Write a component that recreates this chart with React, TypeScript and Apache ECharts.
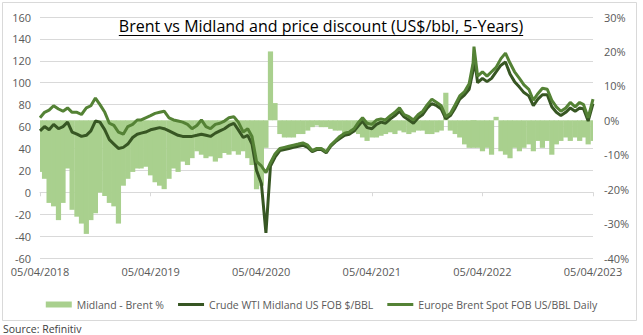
import React, { useEffect, useRef } from 'react';
import * as echarts from 'echarts';

const DATES = [
  '2018-04-05','2018-04-20','2018-05-05','2018-05-20','2018-06-05','2018-06-20','2018-07-05','2018-07-20','2018-08-05','2018-08-20',
  '2018-09-05','2018-09-20','2018-10-05','2018-10-20','2018-11-05','2018-11-20','2018-12-05','2018-12-20','2019-01-05','2019-01-20',
  '2019-02-05','2019-02-20','2019-03-05','2019-03-20','2019-04-05','2019-04-20','2019-05-05','2019-05-20','2019-06-05','2019-06-20',
  '2019-07-05','2019-07-20','2019-08-05','2019-08-20','2019-09-05','2019-09-20','2019-10-05','2019-10-20','2019-11-05','2019-11-20',
  '2019-12-05','2019-12-20','2020-01-05','2020-01-20','2020-02-05','2020-02-20','2020-03-05','2020-03-20','2020-04-05','2020-04-20',
  '2020-05-05','2020-05-20','2020-06-05','2020-06-20','2020-07-05','2020-07-20','2020-08-05','2020-08-20','2020-09-05','2020-09-20',
  '2020-10-05','2020-10-20','2020-11-05','2020-11-20','2020-12-05','2020-12-20','2021-01-05','2021-01-20','2021-02-05','2021-02-20',
  '2021-03-05','2021-03-20','2021-04-05','2021-04-20','2021-05-05','2021-05-20','2021-06-05','2021-06-20','2021-07-05','2021-07-20',
  '2021-08-05','2021-08-20','2021-09-05','2021-09-20','2021-10-05','2021-10-20','2021-11-05','2021-11-20','2021-12-05','2021-12-20',
  '2022-01-05','2022-01-20','2022-02-05','2022-02-20','2022-03-05','2022-03-08','2022-03-20','2022-04-05','2022-04-20','2022-05-05',
  '2022-05-20','2022-06-05','2022-06-20','2022-07-05','2022-07-20','2022-08-05','2022-08-20','2022-09-05','2022-09-20','2022-10-05',
  '2022-10-20','2022-11-05','2022-11-20','2022-12-05','2022-12-20','2023-01-05','2023-01-20','2023-02-05','2023-02-20','2023-03-05',
  '2023-03-20','2023-04-05',
];

const BRENT = [
  68, 73, 75, 79, 76, 74, 77, 73, 73, 71,
  77, 79, 86, 80, 73, 63, 61, 55, 53, 60,
  62, 66, 66, 68, 70, 72, 73, 74, 68, 66,
  65, 64, 62, 58, 61, 66, 60, 58, 62, 63,
  65, 68, 69, 64, 55, 58, 51, 28, 24, 18,
  27, 35, 40, 41, 42, 43, 44, 45, 43, 38,
  40, 40, 37, 43, 47, 51, 54, 55, 58, 64,
  68, 63, 62, 66, 67, 66, 70, 73, 77, 71,
  69, 66, 71, 74, 80, 85, 82, 79, 69, 72,
  80, 88, 92, 99, 118, 133, 106, 110, 106, 110,
  114, 122, 127, 118, 110, 104, 98, 94, 84, 90,
  95, 94, 84, 78, 74, 77, 82, 78, 82, 80,
  68, 85,
];

const WTI_MIDLAND = [
  56, 60, 57, 62, 58, 60, 64, 55, 53, 51,
  52, 56, 65, 64, 57, 48, 44, 40, 41, 44,
  50, 53, 54, 55, 57, 58, 59, 58, 56, 54,
  52, 51, 51, 51, 52, 53, 52, 51, 54, 56,
  58, 61, 63, 57, 50, 52, 44, 20, 8, -37,
  24, 32, 38, 39, 40, 41, 42, 43, 41, 37,
  39, 39, 36, 42, 46, 49, 52, 53, 56, 61,
  65, 59, 58, 62, 64, 63, 67, 70, 74, 69,
  66, 63, 68, 71, 77, 81, 79, 76, 67, 70,
  77, 85, 89, 94, 111, 126, 100, 104, 101, 104,
  110, 116, 119, 108, 101, 96, 91, 88, 79, 85,
  89, 89, 78, 73, 70, 73, 77, 74, 77, 76,
  65, 81,
];

const DISCOUNT_PCT = [
  -15, -17, -24, -25, -29, -24, -14, -26, -28, -30,
  -33, -29, -27, -21, -22, -24, -25, -30, -19, -17,
  -15, -14, -14, -13.5, -16, -18, -19, -20, -17, -14,
  -15, -12, -13, -11, -9, -10, -11, -10.5, -12, -11,
  -9.5, -10, -9, -10, -9, -11, -13, -20, -19, -8,
  20, 5, -4, -5, -5, -5, -4, -4, -3, -2,
  -1.5, -2, -2, -2.5, -3, -3, -4, -3, -3.5, -4,
  -5, -6, -5, -5, -4.5, -4, -3.5, -4, -3, -3.5,
  -4, -3.5, -3, -3, -4, -4, -3.5, -3, 8, -3,
  -4, -5, -7, -8, -8, -7, -8, -9, -8, -10,
  1, -9, -10, -11, -8, -9, -8, -7, -9, -6,
  -8, -6, -10, -7, -6, -5, -6, -5, -6, -5,
  -7, -6,
];

const X_TICK_LABELS = ['05/04/2018', '05/04/2019', '05/04/2020', '05/04/2021', '05/04/2022', '05/04/2023'];
const LEFT_TICKS = { min: -60, max: 160, step: 20 };
const RIGHT_TICKS = { min: -40, max: 30, step: 10 };
const TITLE = 'Brent vs Midland and price discount (US$/bbl, 5-Years)';
const SOURCE = 'Source: Refinitiv';
const NAMES = ['Midland - Brent %', 'Crude WTI Midland US FOB $/BBL', 'Europe Brent Spot FOB US/BBL Daily'];

const START = Date.parse('2018-04-05');
const END = Date.parse('2023-04-05');
const YEARS = X_TICK_LABELS.length - 1;
const toX = (d: string) => ((Date.parse(d) - START) / (END - START)) * YEARS;

const FONT = "'Open Sans', sans-serif";
const TITLE_SIZE = 16;
const LINE_ICON = 'path://M0,0 L26,0 L26,3 L0,3 Z';
const BAR_COLOR = '#a9d08e';
const BAR_W = 5.2;

export default function App() {
  const ref = useRef<HTMLDivElement>(null);
  useEffect(() => {
    if (!ref.current) return;
    const chart = echarts.init(ref.current, null, { renderer: 'svg' });
    const ctx = document.createElement('canvas').getContext('2d');
    let titleW = 410;
    if (ctx) {
      ctx.font = `${TITLE_SIZE}px 'Open Sans'`;
      titleW = ctx.measureText(TITLE).width;
    }
    const xs = DATES.map(toX);
    const axisText = { color: '#595959', fontSize: 11, fontFamily: FONT };
    chart.setOption({
      animation: false,
      backgroundColor: '#ffffff',
      grid: { left: 40, right: 50, top: 17, bottom: 77 },
      xAxis: {
        type: 'value',
        min: 0,
        max: YEARS,
        interval: 1,
        axisLine: { show: true, lineStyle: { color: '#d9d9d9' } },
        axisTick: { show: true, length: 4, lineStyle: { color: '#d9d9d9' } },
        splitLine: { show: false },
        axisLabel: {
          ...axisText,
          margin: 8,
          formatter: (v: number) => X_TICK_LABELS[Math.round(v)] ?? '',
        },
      },
      yAxis: [
        {
          type: 'value',
          min: LEFT_TICKS.min,
          max: LEFT_TICKS.max,
          interval: LEFT_TICKS.step,
          axisLine: { show: false },
          axisTick: { show: false },
          splitLine: { lineStyle: { color: '#d9d9d9' } },
          axisLabel: { ...axisText, margin: 9 },
        },
        {
          type: 'value',
          min: RIGHT_TICKS.min,
          max: RIGHT_TICKS.max,
          interval: RIGHT_TICKS.step,
          position: 'right',
          axisLine: { show: false },
          axisTick: { show: false },
          splitLine: { show: false },
          axisLabel: { ...axisText, margin: 11, formatter: (v: number) => `${v}%` },
        },
      ],
      legend: {
        top: 294,
        left: 'center',
        itemWidth: 26,
        itemHeight: 6,
        itemGap: 14,
        symbolKeepAspect: true,
        textStyle: { color: '#595959', fontSize: 10.5, fontFamily: FONT },
        data: [
          { name: NAMES[0], icon: 'rect', itemStyle: { color: BAR_COLOR } },
          { name: NAMES[1], icon: LINE_ICON },
          { name: NAMES[2], icon: LINE_ICON },
        ],
      },
      series: [
        {
          name: NAMES[0],
          type: 'custom',
          yAxisIndex: 1,
          clip: true,
          encode: { x: 0, y: 1 },
          itemStyle: { color: BAR_COLOR },
          renderItem: (params: any, api: any) => {
            const x = api.value(0);
            const v = api.value(1);
            const p0 = api.coord([x, 0]);
            const p1 = api.coord([x, v]);
            const rect = {
              x: p0[0] - BAR_W / 2,
              y: Math.min(p0[1], p1[1]),
              width: BAR_W,
              height: Math.abs(p1[1] - p0[1]),
            };
            const c = params.coordSys;
            const clipped = echarts.graphic.clipRectByRect(rect, {
              x: c.x, y: c.y, width: c.width, height: c.height,
            });
            return clipped
              ? { type: 'rect', shape: clipped, style: { fill: BAR_COLOR } }
              : null;
          },
          data: xs.map((x, i) => [x, DISCOUNT_PCT[i]]),
          z: 1,
        },
        {
          name: NAMES[1],
          type: 'line',
          yAxisIndex: 0,
          symbol: 'none',
          lineStyle: { color: '#375623', width: 3 },
          itemStyle: { color: '#375623' },
          data: xs.map((x, i) => [x, WTI_MIDLAND[i]]),
          z: 2,
        },
        {
          name: NAMES[2],
          type: 'line',
          yAxisIndex: 0,
          symbol: 'none',
          lineStyle: { color: '#548235', width: 3 },
          itemStyle: { color: '#548235' },
          data: xs.map((x, i) => [x, BRENT[i]]),
          z: 3,
        },
      ],
      graphic: [
        {
          type: 'rect',
          shape: { x: 2.5, y: 2.5, width: 634, height: 318 },
          style: { fill: 'none', stroke: '#d9d9d9', lineWidth: 1 },
          silent: true,
        },
        {
          type: 'text',
          x: 321,
          y: 26,
          style: {
            text: TITLE,
            fill: '#000000',
            fontSize: TITLE_SIZE,
            fontFamily: FONT,
            align: 'center',
            verticalAlign: 'middle',
          },
        },
        {
          type: 'line',
          shape: { x1: 321 - titleW / 2, y1: 35.5, x2: 321 + titleW / 2, y2: 35.5 },
          style: { stroke: '#000000', lineWidth: 1 },
        },
        {
          type: 'text',
          x: 3,
          y: 329,
          style: {
            text: SOURCE,
            fill: '#404040',
            fontSize: 10.5,
            fontFamily: FONT,
            align: 'left',
            verticalAlign: 'middle',
          },
        },
      ],
    });
    return () => chart.dispose();
  }, []);
  return (
    <div
      ref={ref}
      style={{ position: 'fixed', left: 0, top: 0, width: 643, height: 335, background: '#fff' }}
    />
  );
}
